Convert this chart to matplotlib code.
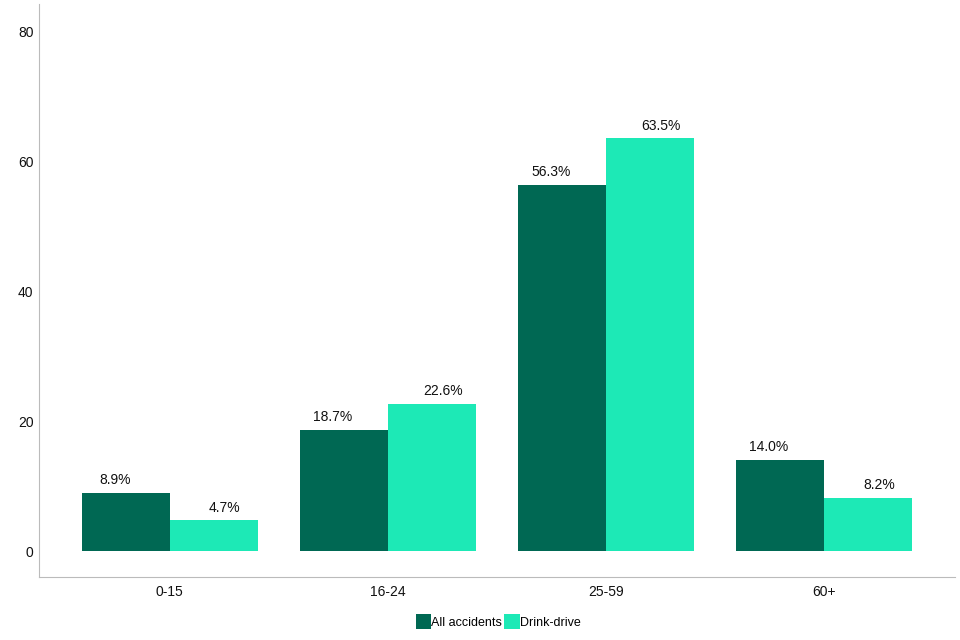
import matplotlib.pyplot as plt
import numpy as np

plt.rcParams['font.family'] = ['Liberation Sans', 'DejaVu Sans']

age_groups = ['0-15', '16-24', '25-59', '60+']
all_accidents = [8.9, 18.7, 56.3, 14.0]
drink_drive = [4.7, 22.6, 63.5, 8.2]

fig = plt.figure(figsize=(9.6, 6.4), dpi=100)
ax = fig.add_axes([0.0406, 0.0984, 0.954, 0.8956])

x = np.arange(len(age_groups))
w = 0.404
b1 = ax.bar(x - w / 2, all_accidents, w, color='#006853', label='All accidents')
b2 = ax.bar(x + w / 2, drink_drive, w, color='#1de9b6', label='Drink-drive')

# labels sit a little off-centre, pushed outwards from the pair
for bars, shift in ((b1, -0.05), (b2, 0.05)):
    for rect in bars:
        h = rect.get_height()
        ax.text(rect.get_x() + rect.get_width() / 2 + shift, h + 0.9, f'{h:.1f}%',
                ha='center', va='bottom', fontsize=10, color='#111111')

ax.set_xlim(-0.6, 3.6)
ax.set_ylim(-4, 84.2)
ax.set_yticks([0, 20, 40, 60, 80])
ax.set_xticks(x)
ax.set_xticklabels(age_groups)
ax.tick_params(length=0, labelsize=10, colors='#111111')
ax.tick_params(axis='x', pad=6)
ax.tick_params(axis='y', pad=4)

for s in ['top', 'right']:
    ax.spines[s].set_visible(False)
for s in ['left', 'bottom']:
    ax.spines[s].set_color('#bbbbbb')

fig.legend(loc='center', bbox_to_anchor=(0.519, 0.029), ncol=2, frameon=False,
           fontsize=9, handlelength=1.25, handleheight=1.55, handletextpad=0.0,
           columnspacing=0.15)

plt.savefig('out.png', dpi=100)
